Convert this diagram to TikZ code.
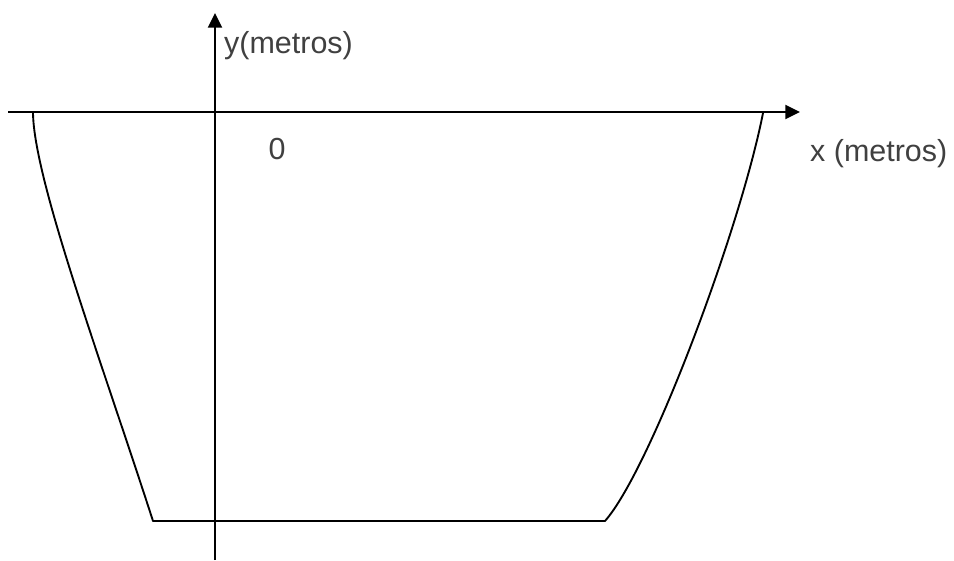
\documentclass[tikz,border=0pt]{standalone}
\usepackage{fontspec}
\setmainfont{Liberation Sans}
\usetikzlibrary{arrows.meta,positioning}

\begin{document}
\begin{tikzpicture}[x=0.03cm, y=-0.03cm,
  axis/.style={line width=1.7pt, -{Triangle[length=12.5pt, width=12pt]}},
  contour/.style={line width=1.6pt, line join=round},
  lbl/.style={text=black!75, font=\fontsize{26}{30}\selectfont, inner sep=0pt}
]
  \useasboundingbox (0,0) rectangle (954,560);

  % axes
  \coordinate (xstart) at (8,112);
  \coordinate (xend) at (800,112);
  \coordinate (ystart) at (215,560);
  \coordinate (yend) at (215,13);
  \draw[axis] (xstart) -- (xend);
  \draw[axis] (ystart) -- (yend);

  \node[lbl, anchor=west] (ylabel) at (224,46) {y(metros)};
  \node[lbl] (origin) at (277,149) {0};
  \node[lbl, anchor=west] (xlabel) at (810,154) {x (metros)};

  % cross section
  \coordinate (topleft) at (33,113);
  \coordinate (botleft) at (153,521);
  \coordinate (botright) at (605,521);
  \coordinate (topright) at (763,113);
  \draw[contour] (topleft) .. controls (34,180) and (101,360) .. (botleft)
    -- (botright) .. controls (650,470) and (740,230) .. (topright);
\end{tikzpicture}
\end{document}
